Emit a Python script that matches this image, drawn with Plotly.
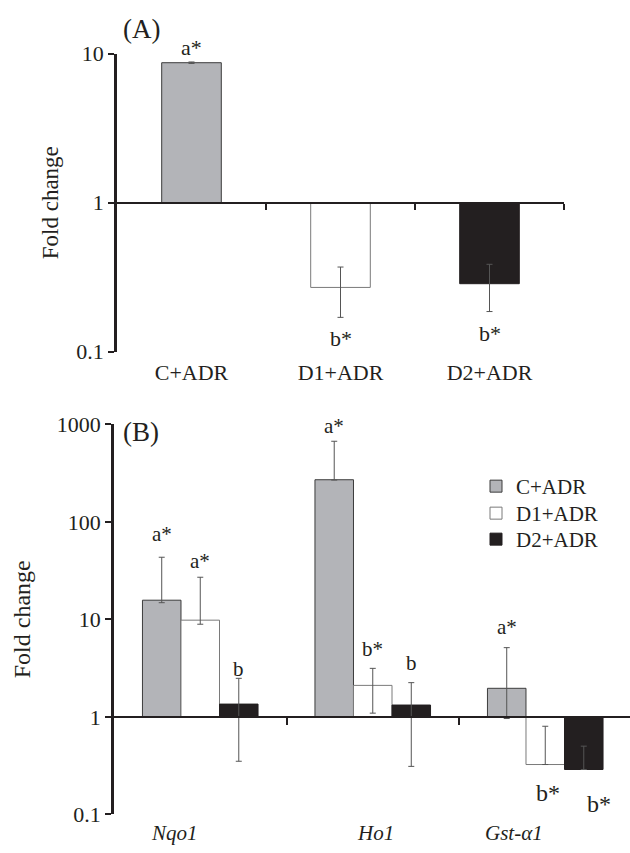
import math
import plotly.graph_objects as go

W, H = 630, 853

# ---------------- Data ----------------
# Panel A
groups_a = ["C+ADR", "D1+ADR", "D2+ADR"]
fold_a = [8.7, 0.27, 0.286]
err_plus_a = [0.1, 0.1, 0.1]
err_minus_a = [0.1, 0.1, 0.1]
labels_a = ["a*", "b*", "b*"]

# Panel B
genes = ["Nqo1", "Ho1", "Gst-α1"]
series_names = ["C+ADR", "D1+ADR", "D2+ADR"]
fold_c = [15.7, 270.0, 1.96]
fold_d1 = [9.8, 2.1, 0.324]
fold_d2 = [1.35, 1.32, 0.288]
plus_c = [27.6, 400.0, 3.16]
plus_d1 = [17.2, 1.04, 0.476]
plus_d2 = [1.13, 0.92, 0.212]
minus_c = [0.9, 2.0, 1.0]
minus_d1 = [0.9, 1.01, 0.0]
minus_d2 = [1.0, 1.01, 0.0]
labels_c = ["a*", "a*", "a*"]
labels_d1 = ["a*", "b*", "b*"]
labels_d2 = ["b", "b", "b*"]

y_ticks_a = [0.1, 1, 10]
y_ticks_b = [0.1, 1, 10, 100, 1000]

# ---------------- Styles ----------------
FONT = "Liberation Serif"
INK = "#231f20"
fills = ["#b3b4b8", "#ffffff", "#231f20"]
outlines = ["#3c3c3c", "#7a7a7a", "#231f20"]
ERR = "#555555"


def py(px):
    """pixel row -> paper fraction"""
    return 1 - px / H


def pxx(px):
    return px / W


fig = go.Figure()

# Panel A bars (base at 1 on log axis)
fig.add_trace(go.Bar(
    x=groups_a, y=[v - 1 for v in fold_a], base=1,
    width=0.4,
    marker=dict(color=fills, line=dict(color=outlines, width=1)),
    error_y=dict(type="data", symmetric=False, array=err_plus_a,
                 arrayminus=err_minus_a, color=ERR, thickness=1, width=3),
    xaxis="x", yaxis="y", showlegend=False, hoverinfo="skip",
))

# Panel B bars
fold_b = [fold_c, fold_d1, fold_d2]
plus_b = [plus_c, plus_d1, plus_d2]
minus_b = [minus_c, minus_d1, minus_d2]
labels_b = [labels_c, labels_d1, labels_d2]
legend_ids = ["legend", "legend2", "legend3"]
for i, name in enumerate(series_names):
    fig.add_trace(go.Bar(
        name=name, x=genes, y=[v - 1 for v in fold_b[i]], base=1,
        marker=dict(color=fills[i], line=dict(color=outlines[i], width=1)),
        error_y=dict(type="data", symmetric=False, array=plus_b[i],
                     arrayminus=minus_b[i], color=ERR, thickness=1, width=3),
        xaxis="x2", yaxis="y2", hoverinfo="skip", legend=legend_ids[i],
    ))

# empty helper traces so the y=1 baseline axes get drawn
fig.add_trace(go.Scatter(x=[], y=[], xaxis="x3", yaxis="y", showlegend=False,
                         hoverinfo="skip"))
fig.add_trace(go.Scatter(x=[], y=[], xaxis="x4", yaxis="y2", showlegend=False,
                         hoverinfo="skip"))

annotations = []

# Letter labels for panel A
gaps_a = [0, 7, 7.5]
for j, g in enumerate(groups_a):
    v = fold_a[j]
    if v >= 1:
        yv, anchor, sh = math.log10(v + err_plus_a[j]), "bottom", gaps_a[j]
    else:
        yv, anchor, sh = math.log10(max(v - err_minus_a[j], 1e-6)), "top", -gaps_a[j]
    annotations.append(dict(x=g, y=yv, xref="x", yref="y", text=labels_a[j],
                            showarrow=False, yanchor=anchor, yshift=sh,
                            font=dict(family=FONT, size=22, color=INK)))

# Letter labels for panel B
bar_px = 38.5
gaps_b = [[9, 1.6, 6.7], [2.6, 5.3, 13.4], [-4.7, 5.7, 19.7]]
xsh_extra = [[0, 0, 0], [0, 0, 3], [0, 0, 15]]
size_b = [[21, 21, 21], [21, 21, 24], [21, 21, 24]]
for i in range(3):
    for j, g in enumerate(genes):
        v = fold_b[i][j]
        if v >= 1:
            yv, anchor, sh = math.log10(v + plus_b[i][j]), "bottom", gaps_b[i][j]
        else:
            yv, anchor, sh = math.log10(v - minus_b[i][j]), "top", -gaps_b[i][j]
        annotations.append(dict(x=g, y=yv, xref="x2", yref="y2", text=labels_b[i][j],
                                showarrow=False, yanchor=anchor, yshift=sh,
                                xshift=(i - 1) * bar_px + xsh_extra[i][j],
                                font=dict(family=FONT, size=size_b[i][j], color=INK)))

# Gene labels for panel B (italic), slightly offset as in the original
gene_xshift = [-26, 3, -31]
for j, g in enumerate(genes):
    annotations.append(dict(x=g, y=py(833), xref="x2", yref="paper", text=g,
                            showarrow=False, yanchor="middle", xshift=gene_xshift[j],
                            font=dict(family=FONT, size=21, color=INK, style="italic")))

# Panel titles
annotations.append(dict(x=pxx(141), y=py(29), xref="paper", yref="paper", text="(A)",
                        showarrow=False, xanchor="center", yanchor="middle",
                        font=dict(family=FONT, size=27, color=INK)))
annotations.append(dict(x=pxx(141), y=py(432), xref="paper", yref="paper", text="(B)",
                        showarrow=False, xanchor="center", yanchor="middle",
                        font=dict(family=FONT, size=27, color=INK)))

axis_common = dict(showgrid=False, zeroline=False, color=INK, automargin=False)

legend_rows = [466, 493, 519]
legend_style = dict(x=pxx(476), xanchor="left", yanchor="top",
                    font=dict(family=FONT, size=21, color=INK),
                    bgcolor="rgba(0,0,0,0)", borderwidth=0)

fig.update_layout(
    template="none",
    width=W, height=H,
    margin=dict(l=0, r=0, t=0, b=0, pad=0),
    paper_bgcolor="white", plot_bgcolor="white",
    font=dict(family=FONT, color=INK),
    barmode="group", bargap=0.33, bargroupgap=0,
    showlegend=True,
    legend=dict(y=py(legend_rows[0]), **legend_style),
    legend2=dict(y=py(legend_rows[1]), **legend_style),
    legend3=dict(y=py(legend_rows[2]), **legend_style),
    annotations=annotations,
    # Panel A axes
    xaxis=dict(domain=[pxx(117), pxx(564)], anchor="y", type="category",
               range=[-0.5, 2.5], showline=False, ticks="", ticklabelstandoff=5,
               tickfont=dict(family=FONT, size=22, color=INK), **axis_common),
    yaxis=dict(domain=[py(351.7), py(53.7)], anchor="x", type="log", range=[-1, 1],
               tickvals=y_ticks_a, ticktext=[f"{t:g}" for t in y_ticks_a],
               showline=True, linewidth=2.5, linecolor=INK,
               ticks="outside", ticklen=6, tickwidth=2, tickcolor=INK,
               tickfont=dict(family=FONT, size=22, color=INK),
               title=dict(text="Fold change", standoff=12,
                          font=dict(family=FONT, size=23, color=INK)),
               **axis_common),
    xaxis3=dict(overlaying="x", anchor="free", position=py(202.7), type="linear",
                range=[-0.5, 2.5], tickvals=[0.5, 1.5, 2.5], showticklabels=False,
                showline=True, linewidth=2, linecolor=INK,
                ticks="outside", ticklen=6, tickwidth=2, tickcolor=INK, **axis_common),
    # Panel B axes
    xaxis2=dict(domain=[pxx(114), 1.0], anchor="y2", type="category",
                range=[-0.5, -0.5 + (630 - 114) / 172.5], showline=False, ticks="",
                showticklabels=False, **axis_common),
    yaxis2=dict(domain=[py(814.3), py(424.3)], anchor="x2", type="log", range=[-1, 3],
                tickvals=y_ticks_b, ticktext=[f"{t:g}" for t in y_ticks_b],
                showline=True, linewidth=2.5, linecolor=INK,
                ticks="outside", ticklen=6, tickwidth=2, tickcolor=INK,
                tickfont=dict(family=FONT, size=22, color=INK),
                title=dict(text="Fold change", standoff=20,
                           font=dict(family=FONT, size=24, color=INK)),
                **axis_common),
    xaxis4=dict(overlaying="x2", anchor="free", position=py(716.8), type="linear",
                range=[-0.5, -0.5 + (630 - 114) / 172.5], tickvals=[0.5, 1.5],
                showticklabels=False, showline=True, linewidth=2, linecolor=INK,
                ticks="outside", ticklen=7, tickwidth=2, tickcolor=INK, **axis_common),
)

fig.write_html("out.html")
